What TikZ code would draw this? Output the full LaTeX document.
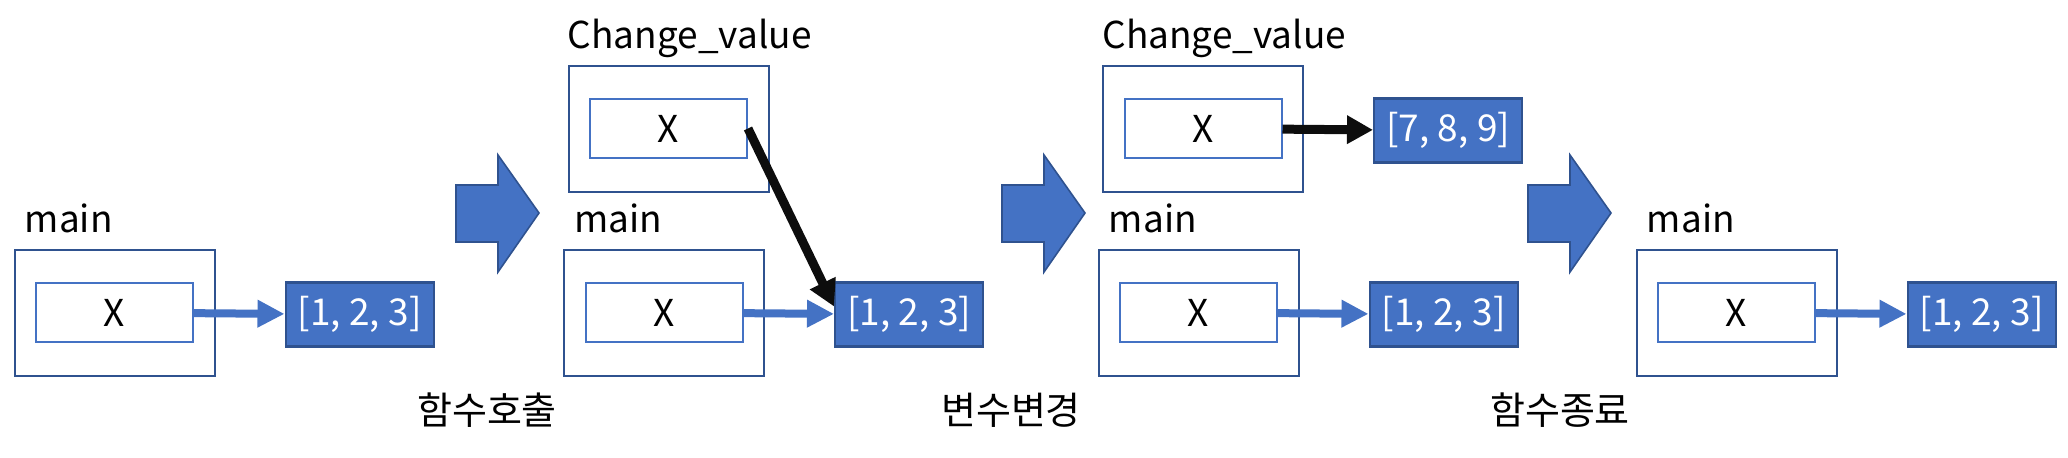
\documentclass[tikz,border=0pt]{standalone}
\usepackage{fontspec}
\setmainfont{Noto Sans CJK KR}
\usetikzlibrary{arrows.meta,positioning}
\definecolor{objblue}{RGB}{68,114,196}
\definecolor{edgeblue}{RGB}{47,82,143}

\begin{document}
\begin{tikzpicture}[x=0.5pt,y=-0.5pt,font=\fontsize{18.5pt}{22pt}\selectfont,
    frame/.style={draw=edgeblue,line width=1pt,minimum width=100pt,minimum height=63pt,inner sep=0pt},
    var/.style={draw=objblue,line width=1pt,minimum width=78.5pt,minimum height=29.5pt,inner sep=0pt},
    val/.style={draw=edgeblue,line width=1.2pt,fill=objblue,text=white,minimum width=74pt,minimum height=32pt,inner sep=0pt},
    scopename/.style={anchor=base west,inner sep=0pt},
    ref/.style={-{Triangle[length=13.5pt,width=13pt]},line width=4pt,objblue},
    newref/.style={-{Triangle[length=13pt,width=13.5pt]},line width=4.5pt,black!95},
    flow/.style={draw=edgeblue,fill=objblue,line width=0.8pt,line join=miter},
    stagelabel/.style={font=\fontsize{19pt}{22pt}\selectfont}]
  \useasboundingbox (0,0) rectangle (2068,457);
  % main frames, one per stage
  \foreach \i/\x in {1/114.5,2/664,3/1198.5,4/1736.5} {
    \node[frame] (f\i) at (\x,312.5) {};
    \node[var] (x\i) at (f\i.center) {X};
    \node[val,right=34.5pt of f\i,yshift=-1pt] (v\i) {[1, 2, 3]};
    \node[scopename] at ([xshift=5.5pt,yshift=8pt]f\i.north west) {main};
    \draw[ref] (x\i) -- (v\i);
  }
  % Change_value frames
  \node[frame] (f2t) at (668.5,128.5) {};
  \node[var] (x2t) at (f2t.center) {X};
  \node[scopename] at ([yshift=8pt]f2t.north west) {Change\_value};
  \node[frame] (f3t) at (1203,128.5) {};
  \node[var] (x3t) at (f3t.center) {X};
  \node[scopename] at ([yshift=8pt]f3t.north west) {Change\_value};
  \node[val,right=34.5pt of f3t,yshift=-1pt] (v3t) {[7, 8, 9]};
  \draw[newref] (x2t.east) -- ([yshift=4pt]v2.west);
  \draw[newref] (x3t) -- (v3t);
  % stage arrows and captions
  \foreach \x in {456,1002,1528}
    \draw[flow] (\x,185) -- ++(42,0) -- ++(0,-30) -- ++(41,58) -- ++(-41,59) -- ++(0,-30) -- ++(-42,0) -- cycle;
  \node[stagelabel] (call) at (487,410) {함수호출};
  \node[stagelabel] (edit) at (1011,410) {변수변경};
  \node[stagelabel] (ret) at (1560,410) {함수종료};
\end{tikzpicture}
\end{document}
